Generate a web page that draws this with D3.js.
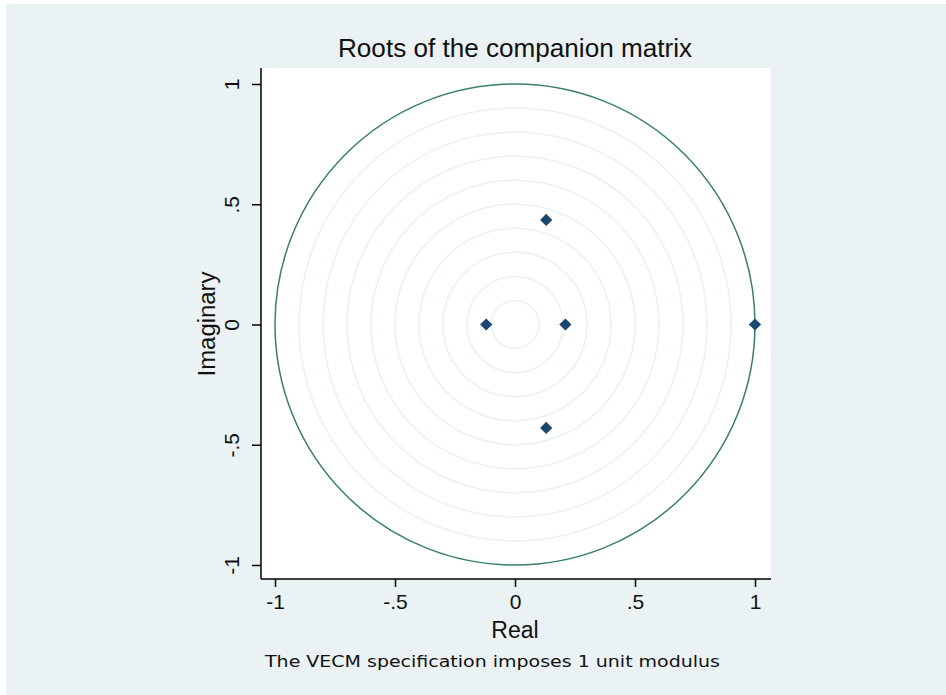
<!DOCTYPE html>
<html>
<head>
<meta charset="utf-8">
<script src="https://cdn.jsdelivr.net/npm/d3@7"></script>
<style>
  body { margin: 0; background: #fff; }
  text { font-family: "Liberation Sans", Arial, sans-serif; fill: #111; }
</style>
</head>
<body>
<div class="container"></div>
<script>
// roots of the companion matrix
const realPart = [0.13, 0.13, -0.12, 0.21, 1.0];
const imagPart = [0.435, -0.43, 0, 0, 0];
const gridRadii = [0.1, 0.2, 0.3, 0.4, 0.5, 0.6, 0.7, 0.8, 0.9];
const tickValues = [-1, -0.5, 0, 0.5, 1];
const tickLabels = ["-1", "-.5", "0", ".5", "1"];

const width = 946, height = 695;
const plot = { left: 261, top: 68, right: 771, bottom: 579 };

const x = d3.scaleLinear().domain([-1, 1]).range([275, 755]);
const y = d3.scaleLinear().domain([-1, 1]).range([565, 84]);

const svg = d3.select(".container").append("svg")
  .attr("width", width).attr("height", height);

svg.append("rect").attr("x", 6).attr("y", 4)
  .attr("width", width - 6).attr("height", height - 4)
  .attr("fill", "#eaf2f3");

svg.append("rect")
  .attr("x", plot.left).attr("y", plot.top)
  .attr("width", plot.right - plot.left).attr("height", plot.bottom - plot.top)
  .attr("fill", "#fff");

// grid circles
const gGrid = svg.append("g").attr("fill", "none");
gGrid.selectAll("ellipse").data(gridRadii).join("ellipse")
  .attr("cx", x(0)).attr("cy", y(0))
  .attr("rx", d => x(d) - x(0)).attr("ry", d => y(0) - y(d))
  .attr("stroke", "#e8f1f3").attr("stroke-width", 1.5);

// unit circle
svg.append("ellipse")
  .attr("cx", x(0)).attr("cy", y(0))
  .attr("rx", x(1) - x(0)).attr("ry", y(0) - y(1))
  .attr("fill", "none").attr("stroke", "#3a7d71").attr("stroke-width", 1.5);

// points
const roots = realPart.map((r, i) => ({ re: r, im: imagPart[i] }));
svg.append("g").selectAll("path").data(roots).join("path")
  .attr("d", d3.symbol(d3.symbolSquare, 75))
  .attr("transform", d => `translate(${x(d.re)},${y(d.im)}) rotate(45)`)
  .attr("fill", "#1a476f");

// axes
const xAxis = d3.axisBottom(x).tickValues(tickValues)
  .tickFormat((d, i) => tickLabels[i]).tickSize(8).tickSizeOuter(0).tickPadding(7);
const gx = svg.append("g").attr("transform", `translate(0,${plot.bottom})`).call(xAxis);
gx.select(".domain").attr("d", `M${plot.left},0H${plot.right}`).attr("stroke", "#000").attr("stroke-width", 1.5);
gx.selectAll(".tick line").attr("stroke", "#000").attr("stroke-width", 1.5);
gx.selectAll(".tick text").style("font-size", "21px").attr("fill", "#111");

const yAxis = d3.axisLeft(y).tickValues(tickValues)
  .tickFormat((d, i) => tickLabels[i]).tickSize(9).tickSizeOuter(0);
const gy = svg.append("g").attr("transform", `translate(${plot.left},0)`).call(yAxis);
gy.select(".domain").attr("d", `M0,${plot.top}V${plot.bottom}`).attr("stroke", "#000").attr("stroke-width", 1.5);
gy.selectAll(".tick line").attr("stroke", "#000").attr("stroke-width", 1.5);
gy.selectAll(".tick text")
  .attr("x", null)
  .attr("text-anchor", "middle")
  .attr("transform", "translate(-29,0) rotate(-90)")
  .attr("dy", "0.35em")
  .style("font-size", "21px").attr("fill", "#111");

// titles
svg.append("text").attr("x", 515).attr("y", 57).attr("text-anchor", "middle")
  .attr("textLength", 354).attr("lengthAdjust", "spacingAndGlyphs")
  .style("font-size", "25px").text("Roots of the companion matrix");
svg.append("text").attr("x", 515).attr("y", 638).attr("text-anchor", "middle")
  .style("font-size", "23px").text("Real");
svg.append("text").attr("transform", "translate(215,324) rotate(-90)")
  .attr("text-anchor", "middle").style("font-size", "23px")
  .attr("textLength", 105).attr("lengthAdjust", "spacingAndGlyphs").text("Imaginary");
svg.append("text").attr("x", 265).attr("y", 667)
  .style("font-size", "16px").style("font-family", "'DejaVu Sans', sans-serif")
  .attr("textLength", 455).attr("lengthAdjust", "spacingAndGlyphs")
  .text("The VECM specification imposes 1 unit modulus");
</script>
</body>
</html>
